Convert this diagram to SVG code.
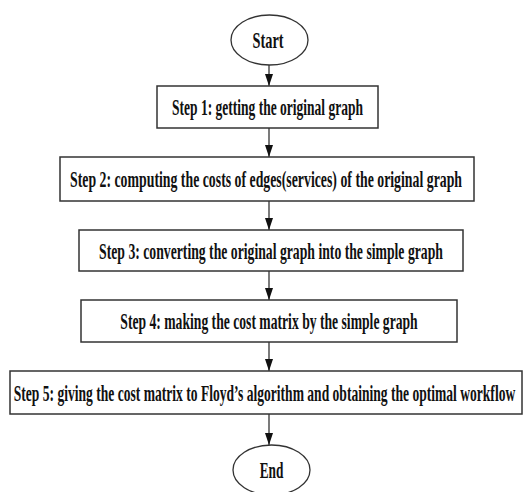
<svg xmlns="http://www.w3.org/2000/svg" width="526" height="492" viewBox="0 0 526 492">
<style>
.box{fill:#fff;stroke:#333;stroke-width:1.5}
.term{fill:#fff;stroke:#333;stroke-width:1.3}
.lbl{font-family:"Liberation Serif","Times New Roman",serif;font-weight:bold;font-size:24px;fill:#111;text-anchor:middle}
.conn{stroke:#222;stroke-width:1.2;fill:none;marker-end:url(#ah)}
</style>
<defs>
<marker id="ah" viewBox="0 0 12 8" refX="12" refY="4" markerWidth="12" markerHeight="8" markerUnits="userSpaceOnUse" orient="auto">
<path d="M0,0 L12,4 L0,8 z" fill="#111"/>
</marker>
</defs>
<rect width="526" height="492" fill="#fff"/>
<g id="connectors">
<line class="conn" x1="269" y1="65" x2="269" y2="86"/>
<line class="conn" x1="269" y1="128" x2="269" y2="157"/>
<line class="conn" x1="269" y1="201" x2="269" y2="230"/>
<line class="conn" x1="269" y1="271" x2="269" y2="300"/>
<line class="conn" x1="269" y1="342" x2="269" y2="371"/>
<line class="conn" x1="269" y1="414" x2="269" y2="445"/>
</g>
<g id="start">
<ellipse class="term" cx="269.5" cy="40" rx="38.5" ry="25"/>
<text class="lbl" transform="translate(268,48) scale(0.596,1)" textLength="52" lengthAdjust="spacingAndGlyphs">Start</text>
</g>
<g id="step1">
<rect class="box" x="157" y="86" width="221" height="42"/>
<text class="lbl" transform="translate(267.5,115) scale(0.563,1)" textLength="339.3" lengthAdjust="spacingAndGlyphs">Step 1: getting the original graph</text>
</g>
<g id="step2">
<rect class="box" x="60" y="157" width="414" height="44"/>
<text class="lbl" transform="translate(266,187) scale(0.576,1)" textLength="680.7" lengthAdjust="spacingAndGlyphs">Step 2: computing the costs of edges(services) of the original graph</text>
</g>
<g id="step3">
<rect class="box" x="79" y="230" width="384" height="41"/>
<text class="lbl" transform="translate(271,258.5) scale(0.571,1)" textLength="602.2" lengthAdjust="spacingAndGlyphs">Step 3: converting the original graph into the simple graph</text>
</g>
<g id="step4">
<rect class="box" x="81" y="300" width="376" height="42"/>
<text class="lbl" transform="translate(269,329) scale(0.568,1)" textLength="523.6" lengthAdjust="spacingAndGlyphs">Step 4: making the cost matrix by the simple graph</text>
</g>
<g id="step5">
<rect class="box" x="10" y="371" width="512" height="43"/>
<text class="lbl" transform="translate(264.5,400.5) scale(0.564,1)" textLength="889.1" lengthAdjust="spacingAndGlyphs">Step 5: giving the cost matrix to Floyd’s algorithm and obtaining the optimal workflow</text>
</g>
<g id="end">
<ellipse class="term" cx="271.5" cy="470" rx="38.5" ry="25"/>
<text class="lbl" transform="translate(271.5,478) scale(0.559,1)" textLength="42.5" lengthAdjust="spacingAndGlyphs">End</text>
</g>
</svg>
